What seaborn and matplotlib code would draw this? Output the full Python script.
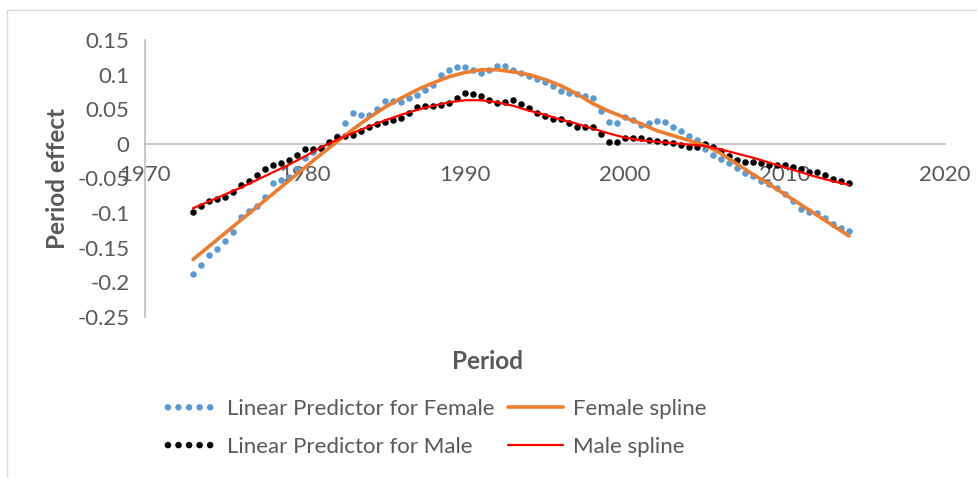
import numpy as np
import pandas as pd
import matplotlib
matplotlib.use('Agg')
import matplotlib.pyplot as plt
from matplotlib.lines import Line2D
import seaborn as sns

# half-yearly periods for the linear predictors
periods = np.arange(1973, 2014.01, 0.5)

female_lp = [-0.188, -0.175, -0.160, -0.152, -0.140, -0.127, -0.106, -0.097, -0.089, -0.076,
             -0.057, -0.052, -0.048, -0.036, -0.020, -0.012, -0.007, 0.001, 0.012, 0.030,
             0.044, 0.041, 0.041, 0.051, 0.062, 0.062, 0.061, 0.066, 0.071, 0.078,
             0.085, 0.099, 0.107, 0.111, 0.111, 0.106, 0.103, 0.107, 0.112, 0.112,
             0.107, 0.102, 0.098, 0.093, 0.089, 0.083, 0.076, 0.073, 0.072, 0.069,
             0.066, 0.047, 0.031, 0.030, 0.039, 0.034, 0.027, 0.030, 0.033, 0.031,
             0.025, 0.018, 0.011, 0.005, -0.007, -0.016, -0.022, -0.028, -0.035, -0.042,
             -0.047, -0.053, -0.058, -0.064, -0.073, -0.083, -0.094, -0.099, -0.100, -0.107,
             -0.115, -0.121, -0.126]

male_lp = [-0.098, -0.090, -0.082, -0.079, -0.076, -0.069, -0.060, -0.053, -0.045, -0.037,
           -0.030, -0.028, -0.024, -0.016, -0.008, -0.007, -0.006, 0.002, 0.010, 0.012,
           0.013, 0.018, 0.024, 0.029, 0.032, 0.035, 0.038, 0.045, 0.053, 0.054,
           0.054, 0.056, 0.059, 0.066, 0.073, 0.072, 0.069, 0.064, 0.059, 0.060,
           0.063, 0.058, 0.052, 0.045, 0.040, 0.036, 0.036, 0.030, 0.024, 0.024,
           0.025, 0.014, 0.002, 0.003, 0.008, 0.009, 0.008, 0.006, 0.004, 0.002,
           0.001, -0.002, -0.005, -0.004, 0.000, -0.004, -0.010, -0.018, -0.024, -0.026,
           -0.026, -0.028, -0.031, -0.031, -0.030, -0.033, -0.037, -0.040, -0.041, -0.045,
           -0.050, -0.053, -0.056]

# yearly spline values
spline_years = np.arange(1973, 2015)

female_spline = [-0.167, -0.148, -0.129, -0.110, -0.091, -0.072, -0.053, -0.034, -0.015, 0.003,
                 0.021, 0.038, 0.053, 0.066, 0.078, 0.088, 0.097, 0.103, 0.107, 0.107,
                 0.104, 0.100, 0.093, 0.084, 0.072, 0.058, 0.047, 0.038, 0.029, 0.019,
                 0.012, 0.005, -0.002, -0.014, -0.029, -0.044, -0.058, -0.073, -0.088, -0.103,
                 -0.118, -0.133]

male_spline = [-0.093, -0.083, -0.073, -0.063, -0.052, -0.041, -0.030, -0.018, -0.005, 0.006,
               0.016, 0.025, 0.034, 0.042, 0.049, 0.055, 0.060, 0.063, 0.063, 0.060,
               0.055, 0.048, 0.042, 0.035, 0.029, 0.022, 0.015, 0.009, 0.005, 0.003,
               0.001, -0.001, -0.003, -0.008, -0.014, -0.020, -0.027, -0.034, -0.041, -0.048,
               -0.054, -0.059]

x_ticks = [1970, 1980, 1990, 2000, 2010, 2020]
y_ticks = [-0.25, -0.2, -0.15, -0.1, -0.05, 0, 0.05, 0.1, 0.15]
y_tick_labels = ['-0.25', '-0.2', '-0.15', '-0.1', '-0.05', '0', '0.05', '0.1', '0.15']

BLUE = '#5B9BD5'
ORANGE = '#ED7D31'
RED = '#FF0000'
GREY_TXT = '#595959'
GREY_AX = '#BFBFBF'

sns.set_style('white')
plt.rcParams['font.family'] = ['Lato', 'DejaVu Sans']

lp = pd.DataFrame({'period': periods, 'female': female_lp, 'male': male_lp})
sp = pd.DataFrame({'year': spline_years, 'female': female_spline, 'male': male_spline})

fig = plt.figure(figsize=(9.77, 4.78), dpi=100)
ax = fig.add_axes([145/977, 1 - 317/478, 800/977, 277/478])

sns.scatterplot(data=lp, x='period', y='female', ax=ax, color=BLUE, s=22, linewidth=0,
                label='Linear Predictor for Female', zorder=2)
sns.scatterplot(data=lp, x='period', y='male', ax=ax, color='black', s=22, linewidth=0,
                label='Linear Predictor for Male', zorder=2)
sns.lineplot(data=sp, x='year', y='female', ax=ax, color=ORANGE, linewidth=2.6,
             label='Female spline', zorder=3)
sns.lineplot(data=sp, x='year', y='male', ax=ax, color=RED, linewidth=1.6,
             label='Male spline', zorder=4)

ax.set_xlim(1970, 2020)
ax.set_ylim(-0.25, 0.15)
ax.set_xticks(x_ticks)
ax.set_xticklabels([str(t) for t in x_ticks])
ax.set_yticks(y_ticks)
ax.set_yticklabels(y_tick_labels)

for side in ['top', 'right']:
    ax.spines[side].set_visible(False)
ax.spines['bottom'].set_position(('data', 0))
for side in ['left', 'bottom']:
    ax.spines[side].set_color(GREY_AX)
    ax.spines[side].set_linewidth(1.2)
ax.spines['bottom'].set_zorder(1)

ax.tick_params(axis='both', length=0, labelsize=16, labelcolor=GREY_TXT)
ax.tick_params(axis='x', pad=15)
ax.tick_params(axis='y', pad=11)

ax.set_xlabel('Period', fontsize=17.5, fontweight='bold', color=GREY_TXT)
ax.xaxis.set_label_coords((488 - 145) / 800, (317 - 350) / 277)
ax.set_ylabel('Period effect', fontsize=17.5, fontweight='bold', color=GREY_TXT)
ax.yaxis.set_label_coords((69 - 145) / 800, 0.5)

h, l = ax.get_legend_handles_labels()
ax.get_legend().remove()
fig.legend(h, l, ncol=2, loc='center',
           bbox_to_anchor=(434 / 977, 1 - 428 / 478), frameon=False,
           scatterpoints=5, scatteryoffsets=[0.5], handlelength=2.5,
           fontsize=16, labelcolor=GREY_TXT, columnspacing=0.6,
           handletextpad=0.45, labelspacing=0.8)

# chart frame (only left and top edges are visible in the crop)
fig.add_artist(Line2D([7/977, 7/977], [0, 1 - 10/478], transform=fig.transFigure,
                      color='#D9D9D9', linewidth=1))
fig.add_artist(Line2D([7/977, 1], [1 - 10/478, 1 - 10/478], transform=fig.transFigure,
                      color='#D9D9D9', linewidth=1))

fig.savefig('out.png', dpi=100)
